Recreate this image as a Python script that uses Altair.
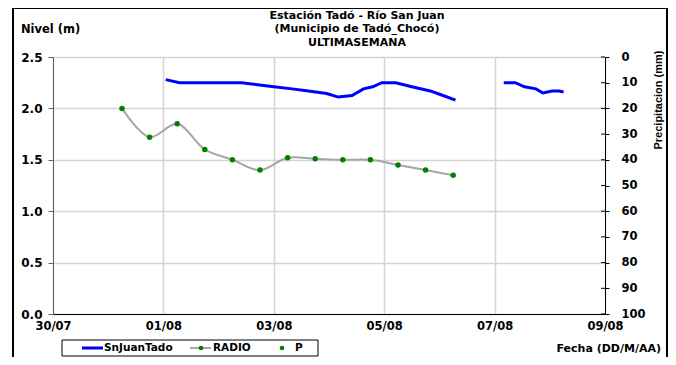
import altair as alt
import pandas as pd

# ---- data ----
sj_time = [
    "2013-08-01T01:00", "2013-08-01T07:00", "2013-08-02T10:00", "2013-08-02T17:00",
    "2013-08-03T00:00", "2013-08-03T08:00", "2013-08-03T15:00", "2013-08-03T23:00",
    "2013-08-04T04:00", "2013-08-04T10:00", "2013-08-04T15:00", "2013-08-04T19:00",
    "2013-08-04T23:00", "2013-08-05T05:00", "2013-08-05T12:00", "2013-08-05T20:00",
    "2013-08-06T01:00", "2013-08-06T07:00",
    "2013-08-07T04:00", "2013-08-07T09:00", "2013-08-07T13:00", "2013-08-07T18:00",
    "2013-08-07T21:00", "2013-08-08T01:00", "2013-08-08T04:00", "2013-08-08T06:00",
]
sj_level = [
    2.28, 2.25, 2.25, 2.23, 2.21, 2.19, 2.17, 2.145, 2.11, 2.125, 2.19, 2.21,
    2.25, 2.25, 2.21, 2.17, 2.13, 2.08,
    2.25, 2.25, 2.21, 2.19, 2.15, 2.17, 2.17, 2.16,
]
sj_seg = [1] * 18 + [2] * 8

radio_time = [
    "2013-07-31T06:00", "2013-07-31T18:00", "2013-08-01T06:00", "2013-08-01T18:00",
    "2013-08-02T06:00", "2013-08-02T18:00", "2013-08-03T06:00", "2013-08-03T18:00",
    "2013-08-04T06:00", "2013-08-04T18:00", "2013-08-05T06:00", "2013-08-05T18:00",
    "2013-08-06T06:00",
]
radio_level = [2.0, 1.72, 1.85, 1.60, 1.50, 1.40, 1.52, 1.51, 1.50, 1.50, 1.45, 1.40, 1.35]

x_tick_days = [(7, 30), (8, 1), (8, 3), (8, 5), (8, 7), (8, 9)]
left_ticks = [0.0, 0.5, 1.0, 1.5, 2.0, 2.5]
right_ticks = [0, 10, 20, 30, 40, 50, 60, 70, 80, 90, 100]

title_lines = ["Estación Tadó - Río San Juan", "(Municipio de Tadó_Chocó)", "ULTIMASEMANA"]

FONT = "DejaVu Sans, sans-serif"
VFONT = "Liberation Sans, Arial, sans-serif"
W, H = 552, 257

sj_df = pd.DataFrame({"t": sj_time, "nivel": sj_level, "seg": sj_seg})
radio_df = pd.DataFrame({"t": radio_time, "nivel": radio_level})
rt_df = pd.DataFrame({"p": right_ticks})
one = pd.DataFrame({"a": [0]})

x_vals = [alt.DateTime(year=2013, month=m, date=d) for m, d in x_tick_days]
x_enc = alt.X(
    "t:T",
    scale=alt.Scale(domain=[x_vals[0], x_vals[-1]]),
    axis=alt.Axis(
        values=x_vals, format="%d/%m", grid=True, gridColor="#d4d4d4", gridWidth=1.5,
        ticks=False, labelPadding=6, labelFlush=False, domainColor="#000000",
        labelFont=FONT, labelFontWeight="bold", labelFontSize=11.5, labelColor="#000000",
        title=None,
    ),
)
y_axis = alt.Axis(
    values=left_ticks, format=".1f", grid=True, gridColor="#d4d4d4", gridWidth=1.5,
    tickSize=5, tickColor="#606060", domainColor="#606060", labelPadding=6,
    labelFont=FONT, labelFontWeight="bold", labelFontSize=12, labelColor="#000000",
    title=None,
)
y_enc = alt.Y("nivel:Q", scale=alt.Scale(domain=[0, 2.5]), axis=y_axis)

blue = alt.Chart(sj_df).mark_line(color="#0000ff", strokeWidth=3).encode(
    x=x_enc, y=y_enc, detail="seg:N"
)
gray = alt.Chart(radio_df).mark_line(
    color="#a6a6a6", strokeWidth=2, interpolate="catmull-rom"
).encode(x=x_enc, y=y_enc)
dots = alt.Chart(radio_df).mark_point(
    filled=True, color="#008000", size=30, opacity=1
).encode(x=x_enc, y=y_enc)

left = alt.layer(gray, dots, blue)

p_scale = alt.Scale(domain=[0, 100], reverse=True)
right = alt.Chart(rt_df).mark_rule(color="#000000").encode(
    x=alt.value(W - 4),
    x2=alt.value(W),
    y=alt.Y(
        "p:Q", scale=p_scale,
        axis=alt.Axis(
            orient="right", values=right_ticks, grid=False, tickSize=4,
            tickColor="#000000", domainColor="#000000", labelPadding=12,
            labelFont=FONT, labelFontWeight="bold", labelFontSize=11.5,
            labelColor="#000000", title=None,
        ),
    ),
)

def txt(s, x, y, align="center", size=11, angle=0, font=FONT):
    kw = dict(text=s, align=align, baseline="middle", font=font, fontWeight="bold",
              fontSize=size, color="#000000")
    if angle:
        kw["angle"] = angle
    return alt.Chart(one).mark_text(**kw).encode(x=alt.value(x), y=alt.value(y))

annots = [
    txt(title_lines[0], 304, -41, size=11),
    txt(title_lines[1], 304, -28, size=11),
    txt(title_lines[2], 304, -14, size=11),
    txt("Nivel (m)", -32, -27, align="left", size=11.5),
    txt("Precipitacion (mm)", 606, 43, size=11, angle=270, font=VFONT),
    txt("Fecha (DD/M/AA)", 608, 292, align="right", size=11),
    # legend
    txt("SnJuanTado", 51, 291, align="left", size=10.5),
    txt("RADIO", 160, 291, align="left", size=10.5),
    txt("P", 242, 291, align="left", size=10.5),
]

frame = alt.Chart(one).mark_rect(
    fillOpacity=0, stroke="#000000", strokeWidth=2
).encode(x=alt.value(-40), x2=alt.value(614), y=alt.value(-49), y2=alt.value(320))

leg_box = alt.Chart(one).mark_rect(
    fillOpacity=0, stroke="#000000", strokeWidth=1
).encode(x=alt.value(9), x2=alt.value(265), y=alt.value(283), y2=alt.value(299))
leg_blue = alt.Chart(one).mark_rule(color="#0000ff", strokeWidth=3).encode(
    x=alt.value(29), x2=alt.value(50), y=alt.value(291)
)
leg_gray = alt.Chart(one).mark_rule(color="#a6a6a6", strokeWidth=2).encode(
    x=alt.value(137), x2=alt.value(158), y=alt.value(291)
)
leg_dot1 = alt.Chart(one).mark_point(filled=True, color="#008000", size=22, opacity=1).encode(
    x=alt.value(148), y=alt.value(291)
)
leg_dot2 = alt.Chart(one).mark_point(filled=True, color="#008000", size=22, opacity=1).encode(
    x=alt.value(229), y=alt.value(291)
)

chart = alt.layer(
    left, right, frame, leg_box, leg_blue, leg_gray, leg_dot1, leg_dot2, *annots
).resolve_scale(y="independent").properties(
    width=W, height=H,
    autosize=alt.AutoSizeParams(type="none"),
    padding={"left": 45, "top": 49, "right": 63, "bottom": 43},
    background="#ffffff",
).configure_view(stroke=None)

chart.save("out.html", embed_options={"renderer": "svg", "actions": False})
